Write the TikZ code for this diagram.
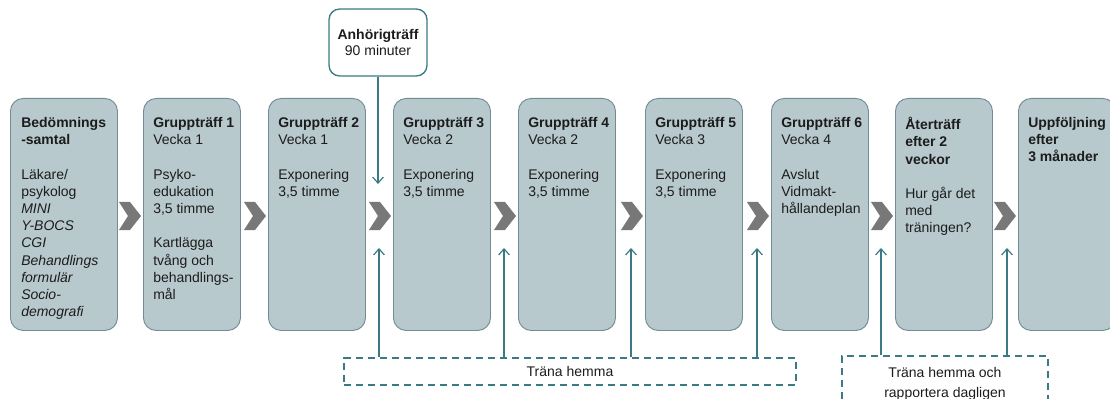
\documentclass[tikz,border=0pt]{standalone}
\usepackage{fontspec}
\setmainfont{Liberation Sans}
\usetikzlibrary{arrows.meta}
\definecolor{boxfill}{RGB}{184,201,206}
\definecolor{boxline}{RGB}{112,140,148}
\definecolor{tealline}{RGB}{58,122,132}
\definecolor{chevgray}{RGB}{120,120,120}
\definecolor{txt}{RGB}{28,28,28}
\tikzset{
  stagebox/.style={draw=boxline, line width=0.7pt, fill=boxfill, rounded corners=9.5pt,
    minimum width=72.75pt, minimum height=174pt, anchor=north west, inner sep=0pt},
  stagetext/.style={anchor=north west, align=left, inner sep=0pt, text=txt,
    font=\fontsize{10.5}{12.9}\selectfont},
  anhbox/.style={draw=tealline, line width=1pt, fill=white, rounded corners=8pt,
    minimum width=73.5pt, minimum height=50.25pt, align=center, text=txt,
    font=\fontsize{10.5}{12}\selectfont, inner sep=0pt},
  homebox/.style={draw=tealline, line width=0.8pt, dash pattern=on 5.5pt off 3.5pt,
    align=center, text=txt, font=\fontsize{10.5}{15}\selectfont, inner sep=0pt},
  link/.style={draw=tealline, line width=1pt, -{Straight Barb[length=4.5pt,width=8pt,line width=0.9pt]}},
  chevron/.style={fill=chevgray}
}
\begin{document}
\begin{tikzpicture}[x=0.75pt,y=-0.75pt]
\useasboundingbox (0,0) rectangle (1110,399);
\clip (0,0) rectangle (1110,399);

% stage boxes
\node[stagebox, minimum width=80.25pt] (s0) at (10,98) {};
\node[stagebox] (s1) at (143,98) {};
\node[stagebox] (s2) at (268,98) {};
\node[stagebox] (s3) at (393,98) {};
\node[stagebox] (s4) at (518,98) {};
\node[stagebox] (s5) at (645,98) {};
\node[stagebox] (s6) at (771,98) {};
\node[stagebox] (s7) at (895,98) {};
\node[stagebox] (s8) at (1018,98) {};

% stage texts
\node[stagetext] (l0) at (21,117) {\textbf{Bedömnings}\\\textbf{-samtal}\\[12.9pt]Läkare/\\psykolog\\\textit{MINI}\\\textit{Y-BOCS}\\\textit{CGI}\\\textit{Behandlings}\\\textit{formulär}\\\textit{Socio-}\\\textit{demografi}};
\node[stagetext] (l1) at (153,117) {\textbf{Gruppträff 1}\\Vecka 1\\[12.9pt]Psyko-\\edukation\\3,5 timme\\[12.9pt]Kartlägga\\tvång och\\behandlings-\\mål};
\node[stagetext] (l2) at (278,117) {\textbf{Gruppträff 2}\\Vecka 1\\[12.9pt]Exponering\\3,5 timme};
\node[stagetext] (l3) at (403,117) {\textbf{Gruppträff 3}\\Vecka 2\\[12.9pt]Exponering\\3,5 timme};
\node[stagetext] (l4) at (528,117) {\textbf{Gruppträff 4}\\Vecka 2\\[12.9pt]Exponering\\3,5 timme};
\node[stagetext] (l5) at (655,117) {\textbf{Gruppträff 5}\\Vecka 3\\[12.9pt]Exponering\\3,5 timme};
\node[stagetext] (l6) at (781,117) {\textbf{Gruppträff 6}\\Vecka 4\\[12.9pt]Avslut\\Vidmakt-\\hållandeplan};
\node[stagetext] (l7) at (905,117) {\textbf{Återträff}\\\textbf{efter 2}\\\textbf{veckor}\\[12.9pt]Hur går det\\med\\träningen?};
\node[stagetext] (l8) at (1028,117) {\textbf{Uppföljning}\\\textbf{efter}\\\textbf{3 månader}};

% chevrons
\foreach \c in {130,255,380,505,632,758,882,1005}{
  \fill[chevgray] (\c-11,202) -- (\c,202) -- (\c+11,216) -- (\c,230) -- (\c-11,230) -- (\c-2,216) -- cycle;
}

% relatives meeting
\node[anhbox] (anh) at (378,42.5) {\textbf{Anhörigträff}\\90 minuter};
\coordinate (d1) at (378,184);
\draw[link] (anh.south) -- (d1);

% home practice boxes
\node[homebox, minimum width=339pt, minimum height=20.25pt] (h1) at (570,371.5) {Träna hemma};
\node[homebox, minimum width=154.5pt, minimum height=42pt] (h2) at (945,384) {Träna hemma och\\rapportera dagligen};

\coordinate (u1) at (379,248);
\coordinate (u2) at (504,248);
\coordinate (u3) at (631,248);
\coordinate (u4) at (757,248);
\coordinate (u5) at (881,248);
\coordinate (u6) at (1007,248);
\foreach \i in {1,2,3,4}{ \draw[link] (u\i |- h1.north) -- (u\i); }
\foreach \i in {5,6}{ \draw[link] (u\i |- h2.north) -- (u\i); }
\end{tikzpicture}
\end{document}
